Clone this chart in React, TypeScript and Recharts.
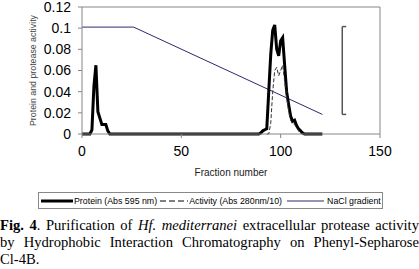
import { LineChart, Line, XAxis, YAxis, ReferenceLine } from "recharts";

// fractions / absorbance
const proteinFractions = [0, 4, 5, 6, 7, 8, 9, 10, 11, 12, 13, 14, 89, 90, 91, 92, 93, 94, 95, 96, 97, 98, 99, 100, 101, 102, 103, 104, 105, 106, 107, 108, 109, 110, 111, 112, 121];
const proteinValues = [0, 0, 0.004, 0.045, 0.065, 0.021, 0.015, 0.009, 0.009, 0.009, 0.003, 0, 0, 0.001, 0.003, 0.004, 0.005, 0.04, 0.075, 0.098, 0.103, 0.08, 0.074, 0.088, 0.091, 0.065, 0.04, 0.028, 0.017, 0.012, 0.013, 0.008, 0.005, 0.003, 0.001, 0, 0];

const activityFractions = [93, 94, 95, 96, 97, 98, 99, 100, 101, 102, 103, 104, 105, 106, 107, 108, 109, 110];
const activityValues = [0, 0, 0.01, 0.04, 0.06, 0.063, 0.055, 0.06, 0.065, 0.05, 0.035, 0.022, 0.013, 0.01, 0.009, 0.006, 0.003, 0];

const naclFractions = [0, 26, 121];
const naclValues = [0.101, 0.101, 0.0185];

const xTicks = [0, 50, 100, 150];
const yTicks = [0, 0.02, 0.04, 0.06, 0.08, 0.1, 0.12];

const protein = proteinFractions.map((f, i) => ({ fraction: f, value: proteinValues[i] }));
const activity = activityFractions.map((f, i) => ({ fraction: f, value: activityValues[i] }));
const nacl = naclFractions.map((f, i) => ({ fraction: f, value: naclValues[i] }));

const GRAY = "#868686";
const NAVY = "#2a2a6e";

const YLabel = (props: any) => {
  const vb = props.viewBox;
  const x = vb.x + 33;
  const y = vb.y + vb.height / 2;
  return (
    <text x={x} y={y} transform={`rotate(-90, ${x}, ${y})`} textAnchor="middle" dominantBaseline="central" fontSize={8.8} fill="#444">
      Protein and protease activity
    </text>
  );
};

const Sample = ({ w, stroke, sw, dash }: { w: number; stroke: string; sw: number; dash?: string }) => (
  <svg width={w} height={6} style={{ display: "block" }}>
    <line x1={0} y1={3} x2={w} y2={3} stroke={stroke} strokeWidth={sw} strokeDasharray={dash} />
  </svg>
);

const lineStyle: any = { textAlign: "justify", textAlignLast: "justify", whiteSpace: "nowrap", height: 17 };

export default function App() {
  return (
    <div style={{ position: "absolute", left: 0, top: 0, width: 419, height: 269, background: "#fff", fontFamily: "'Liberation Sans', Arial, sans-serif", overflow: "hidden" }}>
      <LineChart width={419} height={185} margin={{ top: 7, right: 39, bottom: 0, left: 0 }}>
        <XAxis
          dataKey="fraction"
          type="number"
          domain={[0, 150]}
          ticks={xTicks}
          interval={0}
          allowDuplicatedCategory={false}
          height={51}
          tickSize={4}
          tickMargin={8}
          stroke={GRAY}
          tick={{ fill: "#000", fontSize: 14 }}
          label={{ value: "Fraction number", position: "insideBottom", offset: 9, fontSize: 10, fill: "#222" }}
        />
        <YAxis
          type="number"
          domain={[0, 0.12]}
          ticks={yTicks}
          interval={0}
          width={82}
          tickSize={4}
          tickMargin={7}
          stroke={GRAY}
          tick={{ fill: "#000", fontSize: 14 }}
          tickFormatter={(v: number) => String(v)}
          label={<YLabel />}
        />
        <ReferenceLine y={0.12} stroke={GRAY} />
        <ReferenceLine x={150} stroke={GRAY} />
        {/* bracket on the right */}
        <ReferenceLine segment={[{ x: 131, y: 0.0185 }, { x: 131, y: 0.1015 }]} stroke="#555" strokeWidth={1.5} />
        <ReferenceLine segment={[{ x: 131, y: 0.1015 }, { x: 133, y: 0.1015 }]} stroke="#555" strokeWidth={1.5} />
        <ReferenceLine segment={[{ x: 131, y: 0.0185 }, { x: 133, y: 0.0185 }]} stroke="#555" strokeWidth={1.5} />
        <Line data={nacl} dataKey="value" type="linear" stroke={NAVY} strokeWidth={1} dot={false} isAnimationActive={false} />
        <Line data={protein} dataKey="value" type="linear" stroke="#000" strokeWidth={3} dot={false} isAnimationActive={false} />
        <Line data={activity} dataKey="value" type="linear" stroke="#333" strokeWidth={1} strokeDasharray="4 2" dot={false} isAnimationActive={false} />
      </LineChart>

      <div style={{ position: "absolute", left: 38, top: 192, width: 343, height: 15, border: "1px solid #888", display: "flex", alignItems: "center", fontSize: 8.8, color: "#000", whiteSpace: "nowrap" }}>
        <div style={{ marginLeft: 2 }}><Sample w={32} stroke="#000" sw={3} /></div>
        <span style={{ marginLeft: 1 }}>Protein (Abs 595 nm)</span>
        <div style={{ marginLeft: 3 }}><Sample w={28} stroke="#000" sw={1} dash="6 3" /></div>
        <span style={{ marginLeft: 1 }}>Activity (Abs 280nm/10)</span>
        <div style={{ marginLeft: 5 }}><Sample w={37} stroke={NAVY} sw={1} /></div>
        <span style={{ marginLeft: 3 }}>NaCl gradient</span>
      </div>

      <div style={{ position: "absolute", left: 0, top: 217, width: 419, fontFamily: "'Liberation Serif', 'Times New Roman', serif", fontSize: 14.6, lineHeight: "17px", color: "#000" }}>
        <div style={lineStyle}>
          <b>Fig. 4</b>. Purification of <i>Hf. mediterranei</i> extracellular protease activity
        </div>
        <div style={lineStyle}>by Hydrophobic Interaction Chromatography on Phenyl-Sepharose</div>
        <div style={{ height: 17 }}>Cl-4B.</div>
      </div>
    </div>
  );
}
